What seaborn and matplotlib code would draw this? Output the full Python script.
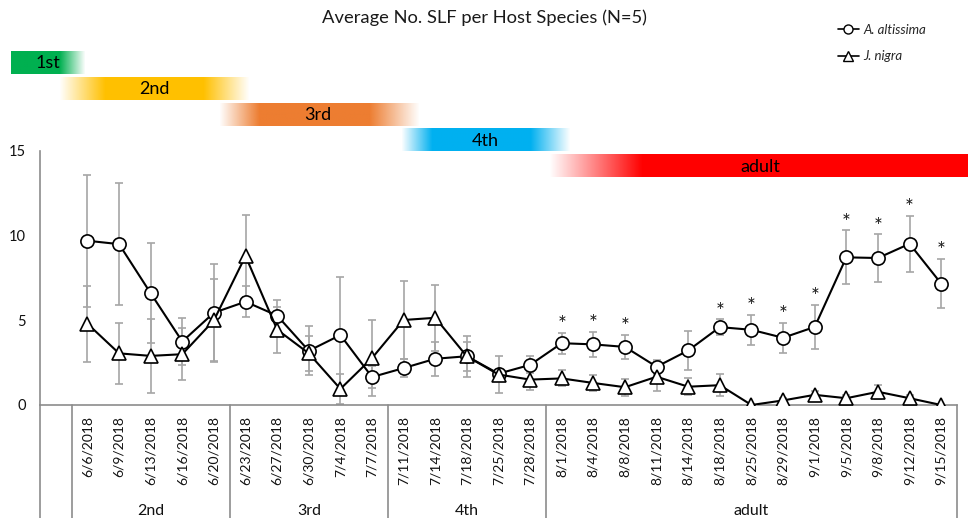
import numpy as np
import pandas as pd
import matplotlib
matplotlib.use('Agg')
import matplotlib.pyplot as plt
import matplotlib.transforms as mtransforms
from matplotlib.colors import to_rgb
from matplotlib.lines import Line2D
import seaborn as sns

# data
dates = ['6/6/2018', '6/9/2018', '6/13/2018', '6/16/2018', '6/20/2018',
         '6/23/2018', '6/27/2018', '6/30/2018', '7/4/2018', '7/7/2018',
         '7/11/2018', '7/14/2018', '7/18/2018', '7/25/2018', '7/28/2018',
         '8/1/2018', '8/4/2018', '8/8/2018', '8/11/2018', '8/14/2018',
         '8/18/2018', '8/25/2018', '8/29/2018', '9/1/2018', '9/5/2018',
         '9/8/2018', '9/12/2018', '9/15/2018']
groups = ['2nd', '3rd', '4th', 'adult']
group_sizes = [5, 5, 5, 13]

alt_mean = [9.7, 9.5, 6.6, 3.75, 5.45, 6.1, 5.28, 3.2, 4.13, 1.65,
            2.18, 2.73, 2.88, 1.85, 2.37, 3.65, 3.58, 3.43, 2.26, 3.22,
            4.6, 4.44, 3.97, 4.61, 8.72, 8.68, 9.52, 7.17]
alt_err = [3.9, 3.6, 2.95, 1.4, 2.9, 0.9, 0.9, 1.45, 3.45, 0.65,
           0.55, 1.0, 0.85, 0.2, 0.5, 0.62, 0.75, 0.7, 0.4, 1.15,
           0.45, 0.9, 0.9, 1.3, 1.6, 1.4, 1.65, 1.45]
nig_mean = [4.8, 3.05, 2.9, 3.0, 5.0, 8.8, 4.45, 3.05, 0.95, 2.77,
            5.02, 5.15, 2.87, 1.8, 1.5, 1.57, 1.3, 1.05, 1.67, 1.08,
            1.17, 0.0, 0.27, 0.6, 0.4, 0.78, 0.4, 0.0]
nig_err = [2.25, 1.8, 2.2, 1.55, 2.42, 2.4, 1.35, 1.05, 0.9, 2.25,
           2.33, 1.95, 1.2, 1.1, 0.63, 0.47, 0.47, 0.5, 0.85, 0.5,
           0.65, 0.0, 0.15, 0.25, 0.2, 0.4, 0.2, 0.0]
# significance stars (A. altissima vs J. nigra)
signif = ['8/1/2018', '8/4/2018', '8/8/2018', '8/18/2018', '8/25/2018',
          '8/29/2018', '9/1/2018', '9/5/2018', '9/8/2018', '9/12/2018',
          '9/15/2018']

species = ['A. altissima', 'J. nigra']

# life stage bars above the plot
stage_labels = ['1st', '2nd', '3rd', '4th', 'adult']
stage_colors = ['#00B050', '#FFC000', '#ED7D31', '#00B0F0', '#FF0000']

W, H = 968, 518

sns.set_theme(style='white')
plt.rcParams['font.family'] = ['Lato', 'DejaVu Sans']

fig = plt.figure(figsize=(W / 100, H / 100), dpi=100)

# overlay in pixel coords for the stage bars
bg = fig.add_axes([0, 0, 1, 1])
bg.set_xlim(0, W)
bg.set_ylim(H, 0)
bg.axis('off')

# x0, solid start, solid end, x1, y0, y1, text x
stage_geom = [(11, 11, 60, 86, 51, 74, 48),
              (59, 105, 204, 250, 77, 100, 154),
              (219, 259, 370, 420, 103, 126, 318),
              (401, 432, 531, 571, 128, 151, 485),
              (549, 642, W, W, 154, 177, 760)]
for lab, col, (x0, s0, s1, x1, y0, y1, tx) in zip(stage_labels, stage_colors, stage_geom):
    xs = np.arange(x0, x1 + 1)
    alpha = np.ones(len(xs))
    if s0 > x0:
        alpha = np.where(xs < s0, (xs - x0) / (s0 - x0), alpha)
    if x1 > s1:
        alpha = np.where(xs > s1, (x1 - xs) / (x1 - s1), alpha)
    img = np.zeros((1, len(xs), 4))
    img[0, :, :3] = to_rgb(col)
    img[0, :, 3] = np.clip(alpha, 0, 1)
    bg.imshow(img, extent=(x0, x1, y1, y0), aspect='auto', interpolation='bilinear')
    bg.text(tx, (y0 + y1) / 2 + 1, lab, ha='center', va='center', fontsize=13, color='black')

bg.text(W / 2, 18, 'Average No. SLF per Host Species (N=5)', ha='center', va='center',
        fontsize=13.2, color='#1a1a1a')

# main axes
ax = fig.add_axes([40 / W, 1 - 405 / H, (957 - 40) / W, (405 - 151) / H])
ax.patch.set_alpha(0)

pos = np.arange(1, len(dates) + 1)
df = pd.DataFrame({
    'pos': np.concatenate([pos, pos]),
    'date': dates + dates,
    'species': [species[0]] * len(dates) + [species[1]] * len(dates),
    'mean': alt_mean + nig_mean,
    'err': alt_err + nig_err,
})

for sp in species:
    sub = df[df['species'] == sp]
    ax.errorbar(sub['pos'], sub['mean'], yerr=sub['err'], fmt='none',
                ecolor='#A6A6A6', elinewidth=1.2, capsize=3, capthick=1.2, zorder=1.5)

sns.lineplot(data=df, x='pos', y='mean', hue='species', style='species',
             markers={species[0]: 'o', species[1]: '^'}, dashes=False,
             palette={species[0]: 'black', species[1]: 'black'},
             markerfacecolor='white', markeredgecolor='black', markeredgewidth=1.2,
             markersize=9.5, linewidth=1.5, legend=False, errorbar=None, ax=ax, zorder=3)

alt = df[df['species'] == species[0]]
for _, r in alt.iterrows():
    if r['date'] in signif:
        ax.text(r['pos'], r['mean'] + r['err'] + 0.1, '*', ha='center', va='baseline',
                fontsize=15, color='#1a1a1a')

ax.set_xlim(-0.5, len(dates) + 0.5)
ax.set_ylim(0, 15)
ax.set_yticks([0, 5, 10, 15])
ax.set_xticks(pos)
ax.set_xticklabels(dates, rotation=90, fontsize=10, color='#111111')
ax.tick_params(axis='x', length=0, pad=8)
ax.tick_params(axis='y', length=0, pad=10, labelsize=10.5, labelcolor='#111111')
ax.set_xlabel('')
ax.set_ylabel('')
for s in ['top', 'right']:
    ax.spines[s].set_visible(False)
for s in ['left', 'bottom']:
    ax.spines[s].set_color('#8C8C8C')
    ax.spines[s].set_linewidth(1.2)

# multi-level category box below the axis
trans = mtransforms.blended_transform_factory(ax.transData, ax.transAxes)
y_bot = -(H - 405) / (405 - 151)
bounds = [-0.5, 0.5]
for n in group_sizes:
    bounds.append(bounds[-1] + n)
for b in bounds:
    ax.plot([b, b], [0, y_bot], transform=trans, color='#8C8C8C', lw=1.2, clip_on=False)
for g, a, b in zip(groups, bounds[1:-1], bounds[2:]):
    ax.text((a + b) / 2, -(511 - 405) / (405 - 151), g, transform=trans,
            ha='center', va='center', fontsize=11.5, color='#111111')

handles = [Line2D([], [], color='black', lw=1.2, marker='o', markerfacecolor='white',
                  markeredgecolor='black', markersize=6.5),
           Line2D([], [], color='black', lw=1.2, marker='^', markerfacecolor='white',
                  markeredgecolor='black', markersize=6.5)]
fig.legend(handles, species, loc='upper left', bbox_to_anchor=(826 / W, 1 - 12 / H),
           frameon=False, handlelength=1.6, handletextpad=0.3, labelspacing=1.1,
           prop={'style': 'italic', 'size': 9.5})

fig.savefig('out.png', dpi=100)
